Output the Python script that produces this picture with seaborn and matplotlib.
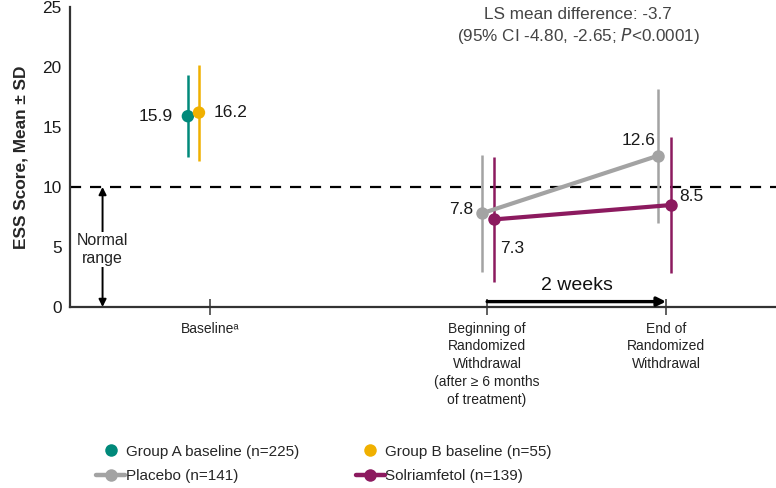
import numpy as np
import pandas as pd
import matplotlib
matplotlib.use("Agg")
import matplotlib.pyplot as plt
import seaborn as sns
from matplotlib.lines import Line2D

# values
tick_labels = ["Baseline\u1d43",
               "Beginning of\nRandomized\nWithdrawal\n(after \u2265 6 months\nof treatment)",
               "End of\nRandomized\nWithdrawal"]
tick_pos = [0.0, 1.55, 2.55]

baseline_groups = ["Group A baseline (n=225)", "Group B baseline (n=55)"]
baseline_mean = [15.9, 16.2]
baseline_sd = [3.4, 4.0]
baseline_offset = [-0.123, -0.061]

arms = ["Placebo (n=141)", "Solriamfetol (n=139)"]
placebo_mean = [7.8, 12.6]
placebo_sd = [4.9, 5.6]
solri_mean = [7.3, 8.5]
solri_sd = [5.2, 5.7]
arm_offset = [-0.03, 0.04]

colors = {"Group A baseline (n=225)": "#00897a", "Group B baseline (n=55)": "#f0b000",
          "Placebo (n=141)": "#a3a3a3", "Solriamfetol (n=139)": "#8c1a5f"}

base_df = pd.DataFrame({"group": baseline_groups, "mean": baseline_mean, "sd": baseline_sd,
                        "x": [tick_pos[0] + o for o in baseline_offset]})
arm_df = pd.DataFrame({
    "group": [arms[0]] * 2 + [arms[1]] * 2,
    "mean": placebo_mean + solri_mean,
    "sd": placebo_sd + solri_sd,
    "x": [tick_pos[1] + arm_offset[0], tick_pos[2] - 0.046,
          tick_pos[1] + arm_offset[1], tick_pos[2] + 0.03],
})

sns.set_style("white")
plt.rcParams["font.family"] = ["Liberation Sans", "DejaVu Sans"]

fig = plt.figure(figsize=(7.76, 4.88), dpi=100)
ax = fig.add_axes([70 / 776, 181 / 488, 706 / 776, 300 / 488])

# error bars first so the markers sit on top
for df in (base_df, arm_df):
    for _, r in df.iterrows():
        ax.vlines(r["x"], r["mean"] - r["sd"], r["mean"] + r["sd"],
                  color=colors[r["group"]], lw=1.8, zorder=2)

sns.lineplot(data=arm_df, x="x", y="mean", hue="group", palette=colors,
             marker="o", markersize=9, markeredgewidth=0, lw=3.0,
             legend=False, ax=ax, zorder=3)
sns.scatterplot(data=base_df, x="x", y="mean", hue="group", palette=colors,
                s=80, linewidth=0, legend=False, ax=ax, zorder=3)

# reference line and normal range arrow
ax.axhline(10, color="black", lw=1.6, ls=(0, (5, 4)), zorder=1)
ax.annotate("", xy=(-0.6, 0), xytext=(-0.6, 10),
            arrowprops=dict(arrowstyle="<|-|>", color="black", lw=1.4,
                            mutation_scale=11, shrinkA=0, shrinkB=0))
ax.text(-0.6, 4.8, "Normal\nrange", ha="center", va="center", fontsize=11.5,
        linespacing=1.2, color="#222222",
        bbox=dict(facecolor="white", edgecolor="none", pad=1))

# 2 week arrow
ax.annotate("", xy=(tick_pos[2], 0.45), xytext=(tick_pos[1], 0.45),
            arrowprops=dict(arrowstyle="-|>", color="black", lw=2.4,
                            mutation_scale=13, shrinkA=0, shrinkB=0))
ax.text((tick_pos[1] + tick_pos[2]) / 2, 1.1, "2 weeks", ha="center", va="bottom",
        fontsize=14, color="#111111")

# value labels
lab_kw = dict(fontsize=12.5, color="#1a1a1a")
ax.text(base_df["x"][0] - 0.085, baseline_mean[0], "15.9", ha="right", va="center", **lab_kw)
ax.text(base_df["x"][1] + 0.08, baseline_mean[1], "16.2", ha="left", va="center", **lab_kw)
ax.text(arm_df["x"][0] - 0.05, placebo_mean[0] + 0.3, "7.8", ha="right", va="center", **lab_kw)
ax.text(arm_df["x"][2] + 0.035, solri_mean[0] - 2.4, "7.3", ha="left", va="center", **lab_kw)
ax.text(arm_df["x"][1] - 0.015, placebo_mean[1] + 1.3, "12.6", ha="right", va="center", **lab_kw)
ax.text(arm_df["x"][3] + 0.045, solri_mean[1] + 0.7, "8.5", ha="left", va="center", **lab_kw)

ax.text(2.06, 25.0, "LS mean difference: -3.7\n(95% CI -4.80, -2.65; $\\it{P}$<0.0001)",
        ha="center", va="top", fontsize=12.3, color="#444444", linespacing=1.3)

ax.set_xlim(-0.782, 3.165)
ax.set_ylim(0, 25)
ax.set_yticks([0, 5, 10, 15, 20, 25])
ax.set_xticks(tick_pos)
ax.set_xticklabels(tick_labels, fontsize=10, color="#222222", linespacing=1.35, va="top")
ax.tick_params(axis="x", bottom=True, direction="inout", length=11, width=1.2,
               color="#444444", pad=5)
ax.tick_params(axis="y", length=0, labelsize=12.4, pad=6, labelcolor="#1a1a1a")
ax.set_xlabel("")
ax.set_ylabel("ESS Score, Mean \u00b1 SD", fontsize=12.4, fontweight="bold", labelpad=10)
sns.despine(ax=ax)
for s in ("left", "bottom"):
    ax.spines[s].set_color("#333333")
    ax.spines[s].set_linewidth(1.6)

handles = [
    Line2D([], [], ls="none", marker="o", ms=9, mew=0, color=colors[baseline_groups[0]]),
    Line2D([], [], marker="o", ms=9, mew=0, lw=3.2, color=colors[arms[0]]),
    Line2D([], [], ls="none", marker="o", ms=9, mew=0, color=colors[baseline_groups[1]]),
    Line2D([], [], marker="o", ms=9, mew=0, lw=3.2, color=colors[arms[1]]),
]
labels = [baseline_groups[0], arms[0], baseline_groups[1], arms[1]]
fig.legend(handles, labels, ncol=2, loc="center left", bbox_to_anchor=(96 / 776, 24 / 488),
           frameon=False, fontsize=11, handlelength=1.9, handletextpad=0.05,
           columnspacing=3.7, labelspacing=0.7, borderaxespad=0, borderpad=0)

fig.savefig("out.png", dpi=100)
